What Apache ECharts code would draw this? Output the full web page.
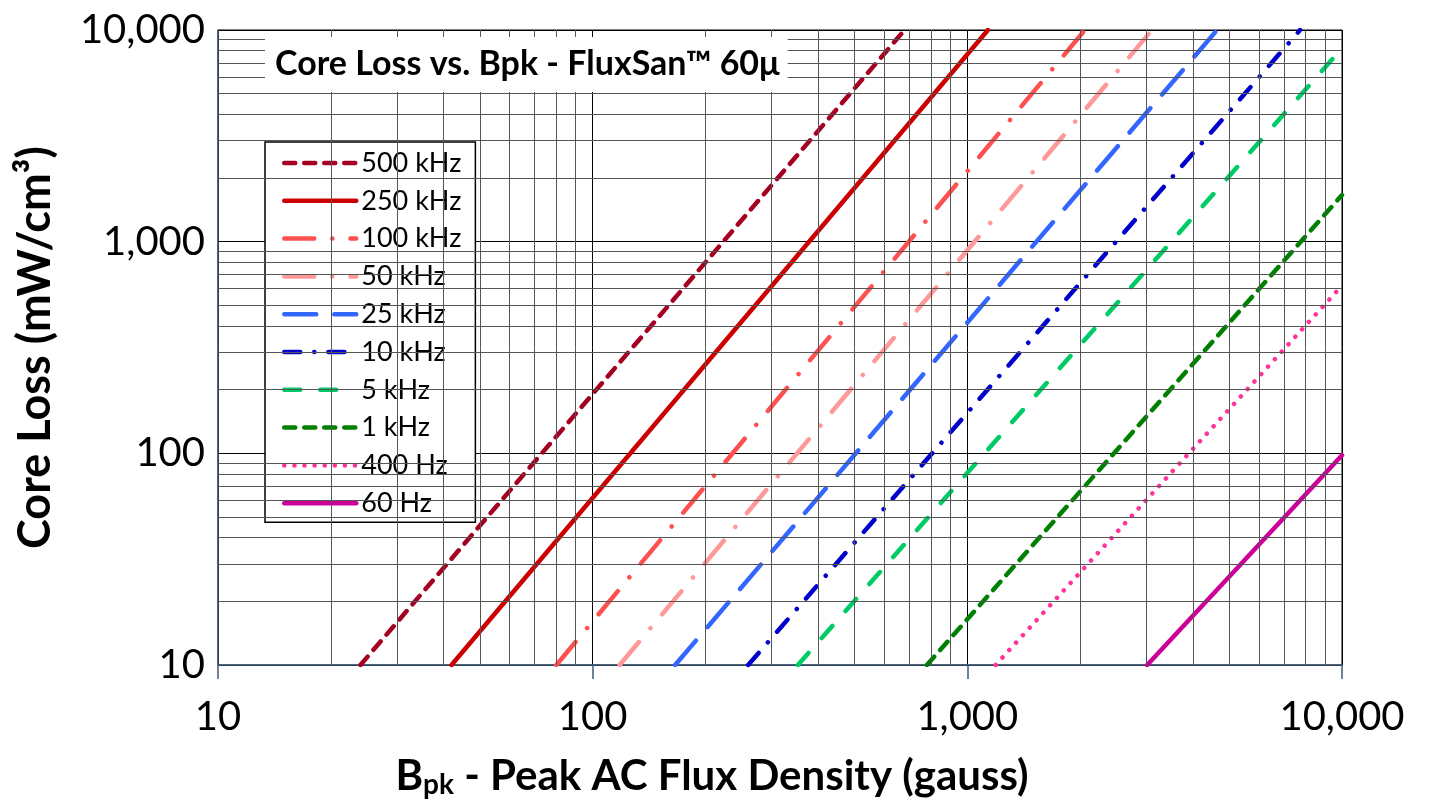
<!DOCTYPE html>
<html>
<head>
<meta charset="utf-8">
<script src="https://cdn.jsdelivr.net/npm/echarts@6/dist/echarts.min.js"></script>
<style>
  html, body { margin: 0; padding: 0; background: #fff; }
  #chart { width: 1434px; height: 805px; }
</style>
</head>
<body>
<div id="chart"></div>
<script>
// series names (legend order)
var names = ['500 kHz', '250 kHz', '100 kHz', '50 kHz', '25 kHz', '10 kHz', '5 kHz', '1 kHz', '400 Hz', '60 Hz'];

// [Bpk gauss, core loss mW/cm3] end points
var f500k = [[24, 10], [680, 10000]];
var f250k = [[42, 10], [1135, 10000]];
var f100k = [[80, 10], [2060, 10000]];
var f50k = [[118, 10], [3110, 10000]];
var f25k = [[166, 10], [4640, 10000]];
var f10k = [[260, 10], [7730, 10000]];
var f5k = [[353, 10], [10000, 8200]];
var f1k = [[780, 10], [10000, 1660]];
var f400 = [[1190, 10], [10000, 620]];
var f60 = [[3020, 10], [10000, 98]];

// axis ticks and minor grid
var xTicks = [10, 100, 1000, 10000];
var yTicks = [10, 100, 1000, 10000];
var minorX = [20, 30, 40, 50, 60, 70, 80, 90, 200, 300, 400, 500, 600, 700, 800, 900, 2000, 3000, 4000, 5000, 6000, 7000, 8000, 9000];
var minorY = [20, 30, 40, 50, 60, 70, 80, 90, 200, 300, 400, 500, 600, 700, 800, 900, 2000, 3000, 4000, 5000, 6000, 7000, 8000, 9000];

var font = 'Lato, "Open Sans", sans-serif';
var styles = [
  { color: '#A50021', type: [11, 9] },
  { color: '#CC0000', type: 'solid' },
  { color: '#FF5050', type: [30, 18, 0.1, 18] },
  { color: '#FF9999', type: [30, 18, 0.1, 18] },
  { color: '#3366FF', type: [32, 18] },
  { color: '#0000CC', type: [16, 14, 0.1, 14] },
  { color: '#00CC66', type: [16, 20] },
  { color: '#008000', type: [11, 9] },
  { color: '#FF3399', type: [0.1, 10] },
  { color: '#CC0099', type: 'solid' }
];
var data = [f500k, f250k, f100k, f50k, f25k, f10k, f5k, f1k, f400, f60];

var fmt = function (v) { return Number(v).toLocaleString('en-US'); };

var series = [{
  name: 'grid',
  type: 'line',
  data: [],
  z: 1,
  silent: true,
  markLine: {
    silent: true,
    symbol: ['none', 'none'],
    label: { show: false },
    animation: false,
    lineStyle: { color: '#555', width: 1, type: 'solid' },
    emphasis: { disabled: true },
    data: minorX.map(function (v) { return { xAxis: v }; })
      .concat(minorY.map(function (v) { return { yAxis: v }; }))
  }
}];
names.forEach(function (n, i) {
  series.push({
    name: n,
    type: 'line',
    data: data[i],
    symbol: 'none',
    z: 3,
    lineStyle: { color: styles[i].color, width: 4.5, type: styles[i].type, cap: 'round' },
    itemStyle: { color: styles[i].color }
  });
});

var chart = echarts.init(document.getElementById('chart'));
chart.setOption({
  animation: false,
  backgroundColor: '#fff',
  title: {
    text: 'Core Loss vs. Bpk - FluxSan™ 60μ',
    left: 265,
    top: 37,
    padding: [8, 8, 8, 10],
    backgroundColor: '#fff',
    textStyle: { fontFamily: font, fontSize: 34, fontWeight: 'bold', color: '#000', lineHeight: 39 }
  },
  legend: {
    data: names,
    orient: 'vertical',
    left: 265,
    top: 142,
    padding: [6, 14, 4, 17],
    itemWidth: 72,
    itemHeight: 14,
    itemGap: 7.8,
    backgroundColor: '#fff',
    borderColor: '#000',
    borderWidth: 1.5,
    borderRadius: 0,
    selectedMode: false,
    itemStyle: { color: 'rgba(0,0,0,0)', borderWidth: 0, opacity: 0 },
    lineStyle: { width: 4.5, cap: 'round' },
    textStyle: { fontFamily: font, fontSize: 27, color: '#000', lineHeight: 30 }
  },
  grid: { left: 218, right: 92, top: 30, bottom: 140, outerBoundsMode: 'none', show: true, borderColor: '#000', borderWidth: 1 },
  xAxis: {
    type: 'log',
    logBase: 10,
    min: xTicks[0],
    max: xTicks[xTicks.length - 1],
    name: '{b|B}{s|pk}{b| - Peak AC Flux Density (gauss)}',
    nameLocation: 'middle',
    nameGap: 88,
    nameTextStyle: {
      padding: [0, 136, 0, 0],
      rich: {
        b: { fontFamily: font, fontSize: 42, fontWeight: 'bold', color: '#000' },
        s: { fontFamily: font, fontSize: 28, fontWeight: 'bold', color: '#000', padding: [18, 0, 0, 0] }
      }
    },
    axisLine: { show: true, lineStyle: { color: '#3f5a78', width: 1.5 } },
    axisTick: { show: true, length: 14, lineStyle: { color: '#3f5a78', width: 1.5 } },
    axisLabel: { formatter: fmt, fontFamily: font, fontSize: 40, color: '#000', margin: 32 },
    splitLine: { show: true, lineStyle: { color: '#000', width: 1 } }
  },
  yAxis: {
    type: 'log',
    logBase: 10,
    min: yTicks[0],
    max: yTicks[yTicks.length - 1],
    name: 'Core Loss (mW/cm³)',
    nameLocation: 'middle',
    nameGap: 160,
    nameTextStyle: { fontFamily: font, fontSize: 45, fontWeight: 'bold', color: '#000' },
    axisLine: { show: true, lineStyle: { color: '#3f5a78', width: 1.5 } },
    axisTick: { show: false },
    axisLabel: { formatter: fmt, fontFamily: font, fontSize: 40, color: '#000', margin: 13 },
    splitLine: { show: true, lineStyle: { color: '#000', width: 1 } }
  },
  series: series
});
</script>
</body>
</html>
